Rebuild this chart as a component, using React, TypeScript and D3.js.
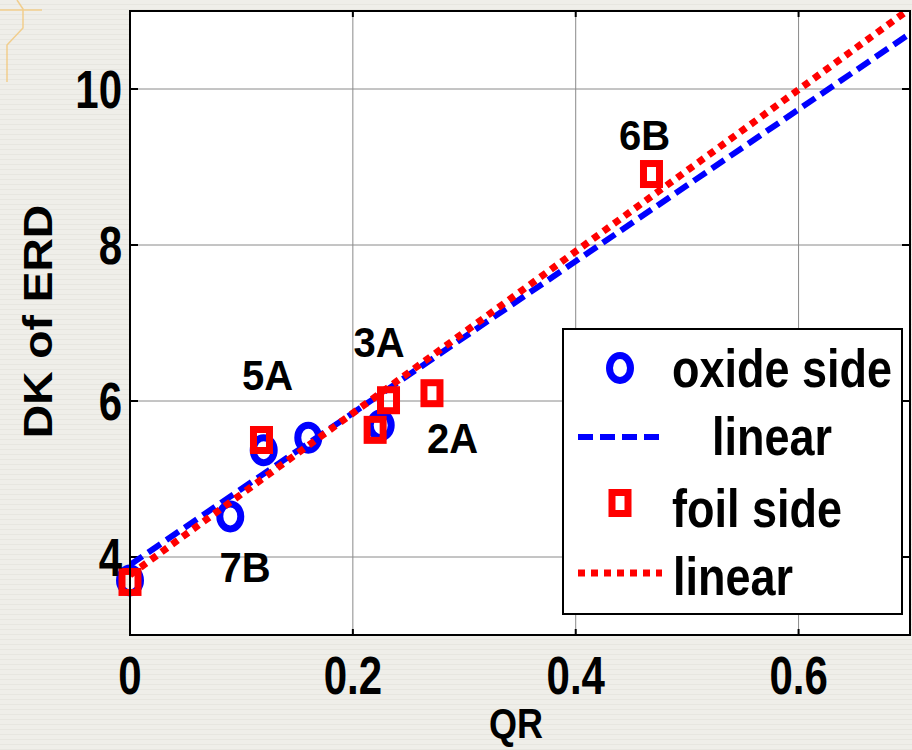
import React from "react";
import * as d3 from "d3";

// Axis ticks
const xTicks = [0, 0.2, 0.4, 0.6];
const yTicks = [4, 6, 8, 10];

// Oxide side measurements
const oxideQR = [0, 0.09, 0.12, 0.16, 0.225];
const oxideDK = [3.7, 4.52, 5.37, 5.53, 5.69];

// Foil side measurements
const foilQR = [0, 0.118, 0.22, 0.232, 0.271, 0.468];
const foilDK = [3.68, 5.5, 5.63, 6.01, 6.1, 8.91];

// Linear fits: [intercept, slope]
const oxideFit = [3.9, 9.73];
const foilFit = [3.77, 10.37];

// Sample annotations (centre QR, baseline DK)
const sampleNames = ["7B", "5A", "3A", "2A", "6B"];
const sampleQR = [0.1032, 0.1234, 0.2235, 0.2894, 0.4617];
const sampleDK = [3.68, 6.14, 6.564, 5.333, 9.218];

const W = 912;
const H = 750;
const L = 130, R = 910, T = 11, B = 635;

const FONT = "'Liberation Sans', Arial, Helvetica, sans-serif";

export default function App() {
  const x = d3.scaleLinear().domain([0, 0.7]).range([L, R]);
  const y = d3.scaleLinear().domain([3, 11]).range([B, T]);

  const fitLine = (fit: number[]) =>
    d3
      .line<number>()
      .x((q) => x(q))
      .y((q) => y(fit[0] + fit[1] * q))([0, 0.7]) || "";

  const oxide = oxideQR.map((q, i) => [q, oxideDK[i]]);
  const foil = foilQR.map((q, i) => [q, foilDK[i]]);

  const blue = "#0000ff";
  const red = "#ff0000";

  const Circle = ({ cx, cy }: { cx: number; cy: number }) => (
    <ellipse cx={cx} cy={cy} rx={10.5} ry={12.5} fill="none" stroke={blue} strokeWidth={7} />
  );
  const Square = ({ cx, cy }: { cx: number; cy: number }) => (
    <rect x={cx - 8} y={cy - 10.5} width={16} height={21} fill="none" stroke={red} strokeWidth={7} />
  );

  const txt = (
    s: string,
    tx: number,
    ty: number,
    size: number,
    sy: number,
    anchor: string = "middle",
    key?: string
  ) => (
    <text
      key={key}
      transform={`translate(${tx},${ty}) scale(1,${sy})`}
      textAnchor={anchor}
      fontFamily={FONT}
      fontWeight="bold"
      fontSize={size}
      fill="#000"
    >
      {s}
    </text>
  );

  return (
    <svg width={W} height={H} style={{ display: "block", position: "absolute", left: 0, top: 0 }}>
      <defs>
        <pattern id="stripes" width={8} height={5} patternUnits="userSpaceOnUse">
          <rect width={8} height={5} fill="#efeee9" />
          <rect y={4} width={8} height={1} fill="#e7e6e0" />
        </pattern>
        <clipPath id="plotClip">
          <rect x={L} y={T} width={R - L} height={B - T} />
        </clipPath>
      </defs>

      <rect width={W} height={H} fill="url(#stripes)" />

      {/* corner ornament */}
      <g stroke="#f3c97e" strokeWidth={1.5} fill="none" opacity={0.85}>
        <line x1={0} y1={10} x2={42} y2={10} />
        <polyline points="17,0 23,9 23,28 7,45 7,82" />
      </g>

      {/* plot area */}
      <rect x={L} y={T} width={R - L} height={B - T} fill="#fff" />

      {/* grid */}
      <g stroke="#8a8a8a" strokeWidth={1}>
        {xTicks.filter((t) => t > 0).map((t) => (
          <line key={"gx" + t} x1={x(t)} x2={x(t)} y1={T} y2={B} />
        ))}
        {yTicks.map((t) => (
          <line key={"gy" + t} x1={L} x2={R} y1={y(t)} y2={y(t)} />
        ))}
      </g>

      {/* ticks */}
      <g stroke="#000" strokeWidth={2}>
        {xTicks.map((t) => (
          <g key={"tx" + t}>
            <line x1={x(t)} x2={x(t)} y1={B} y2={B - 6} />
            <line x1={x(t)} x2={x(t)} y1={T} y2={T + 6} />
          </g>
        ))}
        {yTicks.map((t) => (
          <g key={"ty" + t}>
            <line x1={L} x2={L + 8} y1={y(t)} y2={y(t)} />
            <line x1={R} x2={R - 8} y1={y(t)} y2={y(t)} />
          </g>
        ))}
      </g>

      {/* series */}
      {oxide.map((d, i) => (
        <Circle key={"o" + i} cx={x(d[0])} cy={y(d[1])} />
      ))}
      <path
        d={fitLine(oxideFit)}
        clipPath="url(#plotClip)"
        fill="none"
        stroke={blue}
        strokeWidth={6}
        strokeDasharray="15 7"
      />
      {foil.map((d, i) => (
        <Square key={"f" + i} cx={x(d[0])} cy={y(d[1])} />
      ))}
      <path
        d={fitLine(foilFit)}
        clipPath="url(#plotClip)"
        fill="none"
        stroke={red}
        strokeWidth={7}
        strokeDasharray="7 6"
      />

      {/* sample labels */}
      {sampleNames.map((s, i) => txt(s, x(sampleQR[i]), y(sampleDK[i]), 40, 1.05, "middle", "s" + s))}

      {/* frame */}
      <rect x={L} y={T} width={R - L} height={B - T} fill="none" stroke="#000" strokeWidth={2} />

      {/* tick labels */}
      {xTicks.map((t) => txt(String(t), x(t), 694, 42, 1.28, "middle", "lx" + t))}
      {yTicks.map((t) => txt(String(t), 122, y(t) + 19, 42, 1.28, "end", "ly" + t))}

      {/* axis titles */}
      <text
        transform={`translate(52,321.5) scale(1,1.14) rotate(-90)`}
        textAnchor="middle"
        fontFamily={FONT}
        fontWeight="bold"
        fontSize={40.5}
      >
        DK of ERD
      </text>
      {txt("QR", 516, 738, 36, 1.2)}

      {/* legend */}
      <g>
        <rect x={563} y={329} width={339} height={285} fill="#fff" stroke="#000" strokeWidth={2} />
        <Circle cx={620} cy={368} />
        {txt("oxide side", 672, 387, 45, 1.2, "start")}
        <line x1={578} x2={662} y1={437} y2={437} stroke={blue} strokeWidth={6} strokeDasharray="15 7" />
        {txt("linear", 712, 455, 45, 1.2, "start")}
        <Square cx={620} cy={503} />
        {txt("foil side", 672, 527, 45, 1.2, "start")}
        <line x1={578} x2={662} y1={573} y2={573} stroke={red} strokeWidth={7} strokeDasharray="7 6" />
        {txt("linear", 673, 595, 45, 1.2, "start")}
      </g>
    </svg>
  );
}
